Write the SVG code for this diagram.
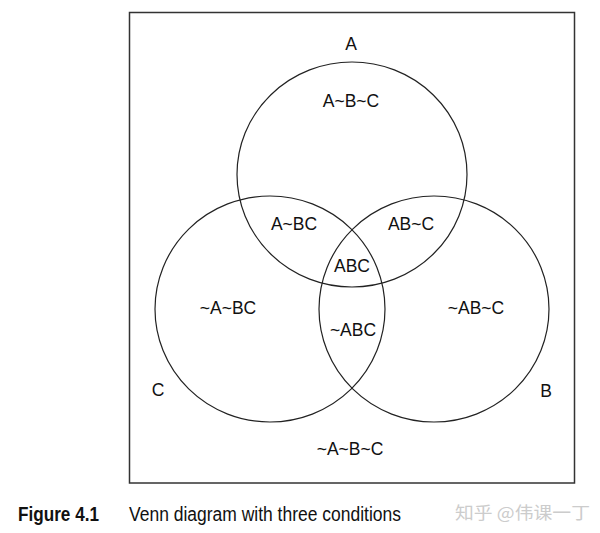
<svg xmlns="http://www.w3.org/2000/svg" width="600" height="533" viewBox="0 0 600 533">
<style>
.c{fill:none;stroke:#222;stroke-width:1.2}
.t{font-family:"Liberation Sans",Arial,sans-serif;font-size:17.5px;fill:#111;text-anchor:middle}
.cap{font-family:"Liberation Sans",Arial,sans-serif;font-size:19.5px;fill:#111}
</style>
<rect width="600" height="533" fill="#fff"/>
<rect x="129.5" y="12.5" width="445" height="470.5" fill="none" stroke="#333" stroke-width="1.5"/>
<g id="connectors"></g>
<g id="circleA"><ellipse class="c" cx="352" cy="174.5" rx="115" ry="112.5"/></g>
<g id="circleC"><ellipse class="c" cx="270" cy="309" rx="115" ry="113"/></g>
<g id="circleB"><ellipse class="c" cx="434" cy="309" rx="115" ry="113"/></g>
<g id="labels">
<text class="t" x="351" y="50">A</text>
<text class="t" x="351" y="107">A~B~C</text>
<text class="t" x="294" y="230">A~BC</text>
<text class="t" x="411" y="230">AB~C</text>
<text class="t" x="352" y="272">ABC</text>
<text class="t" x="228" y="314">~A~BC</text>
<text class="t" x="353" y="336">~ABC</text>
<text class="t" x="476" y="314">~AB~C</text>
<text class="t" x="158" y="396">C</text>
<text class="t" x="546" y="397">B</text>
<text class="t" x="350" y="455">~A~B~C</text>
</g>
<g id="caption">
<text class="cap" x="18" y="521" font-weight="bold" textLength="81" lengthAdjust="spacingAndGlyphs">Figure 4.1</text>
<text class="cap" x="129" y="521" textLength="272" lengthAdjust="spacingAndGlyphs">Venn diagram with three conditions</text>
<text x="455" y="519" font-family="'Noto Sans CJK SC',sans-serif" font-size="17" fill="#cccccc" textLength="135" lengthAdjust="spacingAndGlyphs">知乎 @伟课一丁</text>
</g>
</svg>
